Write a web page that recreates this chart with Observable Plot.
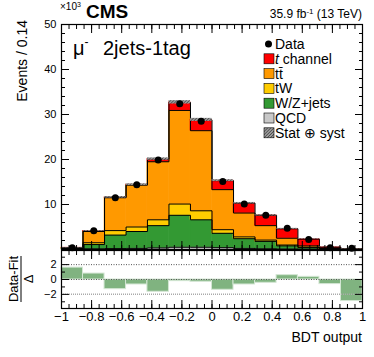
<!DOCTYPE html>
<html><head><meta charset="utf-8">
<script src="https://cdn.jsdelivr.net/npm/d3@7"></script>
<script src="https://cdn.jsdelivr.net/npm/@observablehq/plot@0.6"></script>
<style>
body{margin:0;background:#fff;font-family:"Liberation Sans",Arial,sans-serif}
#wrap{position:relative;width:374px;height:357px;overflow:hidden;background:#fff}
#wrap > svg{position:absolute;left:0}
</style></head><body><div id="wrap"></div>
<script>
// bin edges of the BDT output histogram
const edges = [-1, -0.857, -0.714, -0.571, -0.429, -0.286, -0.143, 0, 0.143, 0.286, 0.429, 0.571, 0.714, 0.857, 1];
// stacked contributions (x10^3 events), bottom to top
const qcd      = [0.05, 0.15, 0.2, 0.25, 0.35, 0.5, 0.5, 0.4, 0.25, 0.15, 0.1, 0.05, 0.02, 0.01];
const wzjets   = [0.15, 0.95, 3.0, 3.75, 4.95, 7.1, 6.1, 3.2, 2.15, 1.65, 0.7, 0.35, 0.08, 0.04];
const tW       = [0.05, 0.4, 1.0, 1.0, 1.3, 2.5, 2.0, 0.8, 0.4, 0.3, 0.2, 0.1, 0.05, 0.01];
const ttbar    = [0.1, 2.5, 7.3, 9.3, 12.9, 20.8, 17.8, 8.9, 5.3, 3.2, 1.5, 0.3, 0.05, 0.02];
const tchannel = [0.05, 0.1, 0.1, 0.1, 0.6, 1.8, 2.4, 2.0, 2.2, 2.3, 2.1, 1.5, 0.3, 0.04];
const dataVals = [0.4, 4.15, 11.5, 14.4, 19.9, 32.4, 28.5, 15.1, 10.1, 7.6, 4.7, 2.2, 0.4, 0.3];
// (Data-Fit)/Delta
const pulls    = [1.6, 0.8, -1.3, -0.67, -1.65, -0.22, -0.3, -1.38, -0.67, -0.44, 0.58, 0.36, -0.62, -2.9];
const uncFrac  = 0.01;

const compNames  = ["QCD", "W/Z+jets", "tW", "tt̄", "t channel"];
const compColors = ["#c8c8c8", "#339933", "#ffcc00", "#ff9900", "#ff0000"];
const compVals   = [qcd, wzjets, tW, ttbar, tchannel];

const xMajor = [-1, -0.8, -0.6, -0.4, -0.2, 0, 0.2, 0.4, 0.6, 0.8, 1];
const xMajorLabels = ["−1", "−0.8", "−0.6", "−0.4", "−0.2", "0", "0.2", "0.4", "0.6", "0.8", "1"];
const xMinor = d3.range(-1, 1.0001, 0.05).map(v => +v.toFixed(3));
const yMajor = [10, 20, 30, 40, 50];
const yMinor = d3.range(0, 50.001, 2);
const rMajor = [-2, 0, 2];
const rMinor = [-3, -1, 1, 3];

// build tables
const rows = [], steps = [];
const cum = new Array(edges.length - 1).fill(0);
compNames.forEach((name, c) => {
  compVals[c].forEach((v, i) => {
    rows.push({name, x1: edges[i], x2: edges[i + 1], y1: cum[i], y2: cum[i] + v});
    cum[i] += v;
  });
  cum.forEach((t, i) => steps.push({name, x: edges[i], y: t}));
  steps.push({name, x: edges[edges.length - 1], y: cum[cum.length - 1]});
});
const unc = cum.map((t, i) => ({x1: edges[i], x2: edges[i + 1], y1: t * (1 - uncFrac) - 0.05, y2: t * (1 + uncFrac) + 0.05}));
const pts = dataVals.map((v, i) => ({x: (edges[i] + edges[i + 1]) / 2, y: v}));
const pullRows = pulls.map((v, i) => ({x1: edges[i], x2: edges[i + 1], v}));

const font = "Liberation Sans, Arial, sans-serif";
const W = 374, ML = 61, MR = 12;
const blank = () => "";

const main = Plot.plot({
  width: W, height: 250, marginLeft: ML, marginRight: MR, marginTop: 24, marginBottom: 1,
  x: {domain: [-1, 1], label: null},
  y: {domain: [0, 50], label: null},
  color: {domain: compNames, range: compColors},
  style: {fontFamily: font, fontSize: "11px", color: "#000", background: "transparent", overflow: "visible"},
  marks: [
    Plot.rect(rows, {x1: "x1", x2: "x2", y1: "y1", y2: "y2", fill: "name", stroke: "name", strokeWidth: 0.6}),
    Plot.line(steps, {x: "x", y: "y", z: "name", curve: "step-after", stroke: "#000", strokeWidth: 1}),
    Plot.rect(unc, {x1: "x1", x2: "x2", y1: "y1", y2: "y2", fill: "url(#hatch)"}),
    Plot.dot(pts, {x: "x", y: "y", r: 3.5, fill: "#000"}),
    Plot.axisY({anchor: "left", ticks: yMajor, tickSize: -8, tickPadding: 13, label: null, fontSize: 11}),
    Plot.axisY({anchor: "left", ticks: yMinor, tickSize: -4, tickFormat: blank, label: null}),
    Plot.axisY({anchor: "right", ticks: yMajor, tickSize: -8, tickFormat: blank, label: null}),
    Plot.axisY({anchor: "right", ticks: yMinor, tickSize: -4, tickFormat: blank, label: null}),
    Plot.axisX({anchor: "bottom", ticks: xMajor, tickSize: -8, tickFormat: blank, label: null}),
    Plot.axisX({anchor: "bottom", ticks: xMinor, tickSize: -4, tickFormat: blank, label: null}),
    Plot.axisX({anchor: "top", ticks: xMajor, tickSize: -8, tickFormat: blank, label: null}),
    Plot.axisX({anchor: "top", ticks: xMinor, tickSize: -4, tickFormat: blank, label: null}),
    Plot.frame({stroke: "#000", strokeWidth: 1.2})
  ]
});
main.style.top = "0px";
const defs = document.createElementNS("http://www.w3.org/2000/svg", "defs");
defs.innerHTML = '<pattern id="hatch" width="2.2" height="2.2" patternUnits="userSpaceOnUse" patternTransform="rotate(45)"><rect width="2.2" height="2.2" fill="#9a9a9a"/><line x1="0" y1="0" x2="0" y2="2.2" stroke="#3a3a3a" stroke-width="1.2"/></pattern>';
main.insertBefore(defs, main.firstChild);

const ratio = Plot.plot({
  width: W, height: 108, marginLeft: ML, marginRight: MR, marginTop: 1, marginBottom: 49,
  x: {domain: [-1, 1], label: null},
  y: {domain: [-3.9, 3.9], label: null},
  style: {fontFamily: font, fontSize: "12px", color: "#000", background: "transparent", overflow: "visible"},
  marks: [
    Plot.rectY(pullRows, {x1: "x1", x2: "x2", y: "v", fill: "#80b380", stroke: "#d4e6d4", strokeWidth: 1}),
    Plot.ruleY([2, 0], {stroke: "#555", strokeDasharray: "1,1.5", strokeWidth: 1}),
    Plot.ruleY([-2], {stroke: "#aaa", strokeDasharray: "1,1", strokeWidth: 1.5}),
    Plot.axisY({anchor: "left", ticks: rMajor, tickSize: -8, tickPadding: 13, tickFormat: d => d < 0 ? "−" + Math.abs(d) : String(d), label: null, fontSize: 11}),
    Plot.axisY({anchor: "left", ticks: rMinor, tickSize: -4, tickFormat: blank, label: null}),
    Plot.axisY({anchor: "right", ticks: rMajor, tickSize: -8, tickFormat: blank, label: null}),
    Plot.axisY({anchor: "right", ticks: rMinor, tickSize: -4, tickFormat: blank, label: null}),
    Plot.axisX({anchor: "bottom", ticks: xMajor, tickSize: -8, tickPadding: 11, tickFormat: d => xMajorLabels[xMajor.indexOf(d)], label: null, fontSize: 13}),
    Plot.axisX({anchor: "bottom", ticks: xMinor, tickSize: -4, tickFormat: blank, label: null}),
    Plot.axisX({anchor: "top", ticks: xMajor, tickSize: -8, tickFormat: blank, label: null}),
    Plot.axisX({anchor: "top", ticks: xMinor, tickSize: -4, tickFormat: blank, label: null}),
    Plot.frame({stroke: "#000", strokeWidth: 1.2})
  ]
});
ratio.style.top = "249px";

const wrap = document.getElementById("wrap");
wrap.appendChild(main);
wrap.appendChild(ratio);

// overlay texts + legend
const legendY = [44, 58.8, 73.6, 88.4, 103.2, 118, 132.8];
const legendItems = [
  {label: "Data", kind: "dot"},
  {label: "<tspan font-style='italic'>t</tspan> channel", fill: "#ff0000"},
  {label: "tt̄", fill: "#ff9900"},
  {label: "tW", fill: "#ffcc00"},
  {label: "W/Z+jets", fill: "#339933"},
  {label: "QCD", fill: "#c8c8c8"},
  {label: "Stat ⊕ syst", fill: "url(#hatch)"}
];
let legendSvg = legendItems.map((it, i) => {
  const y = legendY[i];
  const sym = it.kind === "dot"
    ? `<circle cx="268.5" cy="${y}" r="3.5" fill="#000"/>`
    : `<rect x="264" y="${y - 5}" width="10" height="10" fill="${it.fill}" stroke="#000" stroke-width="0.6"/>`;
  return sym + `<text x="275" y="${y + 5}" font-size="14">${it.label}</text>`;
}).join("");

const ov = document.createElementNS("http://www.w3.org/2000/svg", "svg");
ov.setAttribute("width", W); ov.setAttribute("height", 357);
ov.style.top = "0px"; ov.style.pointerEvents = "none";
ov.setAttribute("font-family", font);
ov.innerHTML = `
<text x="60" y="10" font-size="10">×10<tspan font-size="7" dy="-3">3</tspan></text>
<text x="86" y="18" font-size="19" font-weight="bold">CMS</text>
<text x="362" y="18" font-size="12" text-anchor="end">35.9 fb<tspan font-size="8" dy="-4">-1</tspan><tspan dy="4"> (13 TeV)</tspan></text>
<text transform="translate(27,20) rotate(-90)" text-anchor="end" font-size="14">Events / 0.14</text>
<text transform="translate(18,279) rotate(-90)" text-anchor="middle" font-size="13">Data-Fit</text>
<line x1="21" x2="21" y1="256" y2="302" stroke="#000" stroke-width="1"/>
<text transform="translate(33,279) rotate(-90)" text-anchor="middle" font-size="13">Δ</text>
<text x="362" y="342" font-size="14" text-anchor="end">BDT output</text>
<text x="73" y="55" font-size="20">μ<tspan font-size="12" dy="-9">-</tspan><tspan x="103" dy="9">2jets-1tag</tspan></text>
${legendSvg}`;
wrap.appendChild(ov);
</script></body></html>
